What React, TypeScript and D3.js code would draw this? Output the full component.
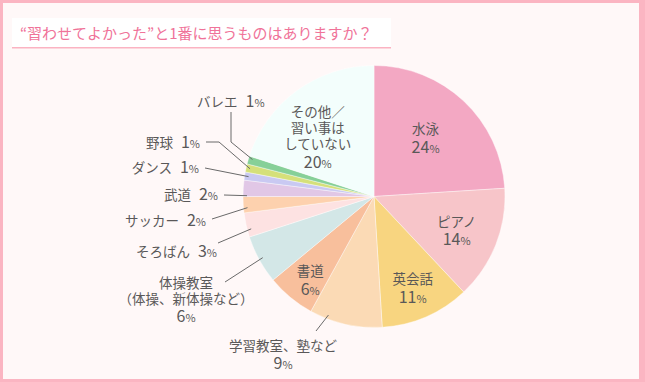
import React, { useEffect } from "react";
import * as d3 from "d3";

const title = "“習わせてよかった”と1番に思うものはありますか？";
const categories = [
  "水泳", "ピアノ", "英会話", "学習教室、塾など", "書道", "体操教室",
  "そろばん", "サッカー", "武道", "ダンス", "野球", "バレエ", "その他／習い事はしていない",
];
const values = [24, 14, 11, 9, 6, 6, 3, 2, 2, 1, 1, 1, 20];
const labelLines = [
  ["水泳"], ["ピアノ"], ["英会話"], ["学習教室、塾など"], ["書道"],
  ["体操教室", "（体操、新体操など）"], ["そろばん"], ["サッカー"], ["武道"],
  ["ダンス"], ["野球"], ["バレエ"], ["その他／", "習い事は", "していない"],
];
const colors = [
  "#f3a8c3", "#f7c5c9", "#f8d580", "#fbdab5", "#f8bf9c", "#d3e7e7",
  "#fde2e2", "#fdd1ae", "#e1c7e6", "#c9c9f2", "#d5e07a", "#86d098", "#f3fefc",
];

// layout (not data)
type Lay =
  | { kind: "in"; rf: number; ang: number }
  | { kind: "out"; x: number; y: number; anchor: string; inline: boolean; elbow: [number, number][]; t: number };
const layout: Lay[] = [
  { kind: "in", rf: 0.6, ang: 41 },
  { kind: "in", rf: 0.68, ang: 112 },
  { kind: "in", rf: 0.755, ang: 157 },
  { kind: "out", x: 283, y: 346, anchor: "middle", inline: false, elbow: [[316, 331]], t: 0.76 },
  { kind: "in", rf: 0.8, ang: 217.5 },
  { kind: "out", x: 186, y: 283, anchor: "middle", inline: false, elbow: [[225, 282]], t: 0.5 },
  { kind: "out", x: 217, y: 252, anchor: "end", inline: true, elbow: [[218, 243]], t: 0.3 },
  { kind: "out", x: 206, y: 221, anchor: "end", inline: true, elbow: [[212, 219]], t: 0.3 },
  { kind: "out", x: 218, y: 195, anchor: "end", inline: true, elbow: [[224, 195]], t: 0.05 },
  { kind: "out", x: 199, y: 168, anchor: "end", inline: true, elbow: [[205, 168]], t: 0.5 },
  { kind: "out", x: 200, y: 143, anchor: "end", inline: true, elbow: [[206, 142], [219, 142]], t: 0.5 },
  { kind: "out", x: 197, y: 102, anchor: "start", inline: true, elbow: [[231, 112], [231, 142]], t: 0.7 },
  { kind: "in", rf: 0.63, ang: 317 },
];

const W = 645, H = 382;
const cx = 374, cy = 196.5, R = 131;
const textColor = "#5a5858";
const font = "'Noto Sans CJK JP', 'Noto Sans', sans-serif";

function pt(angDeg: number, r: number): [number, number] {
  const a = (angDeg * Math.PI) / 180;
  return [cx + r * Math.sin(a), cy - r * Math.cos(a)];
}

function Pct({ v, gap = 0 }: { v: number; gap?: number }) {
  return (
    <>
      <tspan fontSize={16} dx={gap}>{v}</tspan>
      <tspan fontSize={11}>%</tspan>
    </>
  );
}

export default function App() {
  useEffect(() => {
    document.body.style.margin = "0";
  }, []);
  const pie = d3.pie<number>().sort(null).value((d) => d);
  const arcs = pie(values);
  const arcGen = d3.arc<d3.PieArcDatum<number>>().innerRadius(0).outerRadius(R);
  const lineGen = d3.line();
  const lh = 16;

  return (
    <svg width={W} height={H} style={{ display: "block" }} fontFamily={font}>
      <rect x={0} y={0} width={W} height={H} fill="#fbb5c2" />
      <rect x={3} y={3} width={W - 9} height={H - 6} fill="#fff8f8" />
      <rect x={12} y={19} width={379} height={29.5} fill="#fbb3c2" />
      <rect x={12} y={18} width={379} height={29} fill="#ffffff" />
      <text x={20} y={38.5} fill="#f07399" fontSize={15}>{title}</text>
      <g transform={`translate(${cx},${cy})`}>
        {arcs.map((a, i) => (
          <path key={i} d={arcGen(a) || ""} fill={colors[i]} stroke="#ffffff" strokeWidth={0.4} />
        ))}
      </g>
      {arcs.map((a, i) => {
        const L = layout[i];
        const lines = labelLines[i];
        if (L.kind === "in") {
          const [x, y] = pt(L.ang, R * L.rf);
          const n = lines.length + 1;
          const y0 = y - ((n - 1) * lh) / 2;
          return (
            <g key={i}>
              {lines.map((s, k) => (
                <text key={k} x={x} y={y0 + k * lh} dy="0.35em" textAnchor="middle" fill={textColor} fontSize={13.5}>{s}</text>
              ))}
              <text x={x} y={y0 + lines.length * lh + 2} dy="0.35em" textAnchor="middle" fill={textColor}><Pct v={values[i]} /></text>
            </g>
          );
        }
        const ang = ((a.startAngle + (a.endAngle - a.startAngle) * L.t) * 180) / Math.PI;
        const inner = pt(ang, R - 4);
        const pts: [number, number][] = [...L.elbow, inner];
        const leader = (
          <path d={lineGen(pts) || ""} stroke="#6a6a6a" strokeWidth={1} fill="none" />
        );
        if (L.inline) {
          return (
            <g key={i}>
              {leader}
              <text x={L.x} y={L.y} dy="0.35em" textAnchor={L.anchor} fill={textColor} fontSize={13.5}>
                {lines[0]}<Pct v={values[i]} gap={8} />
              </text>
            </g>
          );
        }
        return (
          <g key={i}>
            {leader}
            {lines.map((s, k) => (
              <text key={k} x={L.x} y={L.y + k * lh} dy="0.35em" textAnchor="middle" fill={textColor} fontSize={13.5}>{s}</text>
            ))}
            <text x={L.x} y={L.y + lines.length * lh + 1} dy="0.35em" textAnchor="middle" fill={textColor}><Pct v={values[i]} /></text>
          </g>
        );
      })}
    </svg>
  );
}
